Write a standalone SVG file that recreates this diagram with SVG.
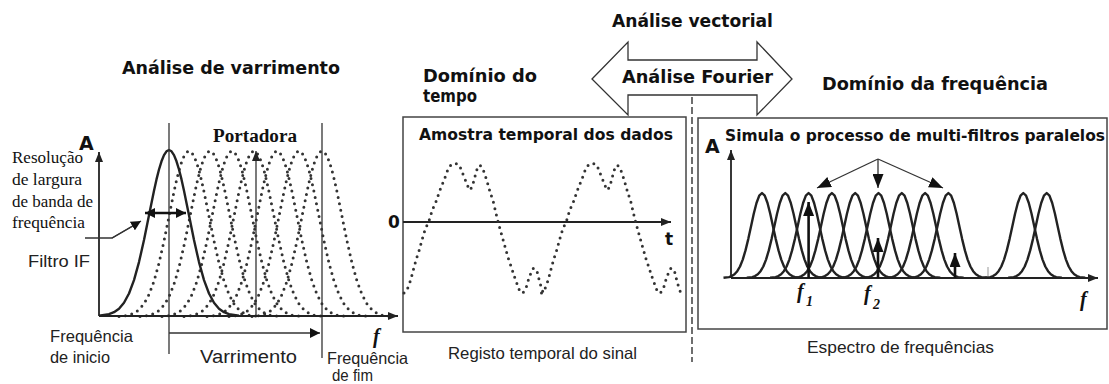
<svg xmlns="http://www.w3.org/2000/svg" xmlns:xlink="http://www.w3.org/1999/xlink" width="1109" height="384" viewBox="0 0 1109 384">
<style>
.tb{font-family:"DejaVu Sans","Liberation Sans",sans-serif;font-weight:bold;fill:#111}
.tr{font-family:"Liberation Sans",Arial,sans-serif;fill:#222}
.ts{font-family:"Liberation Serif","Times New Roman",serif;fill:#111}
.tf{font-family:"Liberation Serif","DejaVu Serif","Times New Roman",serif;font-weight:bold;font-style:italic;fill:#111}
.ln{stroke:#333;stroke-width:1.3;fill:none}
.axis{stroke:#222;stroke-width:1.8;fill:none}
.box{stroke:#444;stroke-width:1.5;fill:#fff}
.curve{fill:none;stroke:#222;stroke-width:2.4;stroke-linejoin:round}
.dot{fill:none;stroke:#333;stroke-width:3;stroke-linecap:round;stroke-dasharray:0 6.5}
.thick{stroke:#111;stroke-width:2.6;fill:none}
</style>
<defs>
<marker id="arr" viewBox="0 0 10 8" refX="10" refY="4" markerWidth="10" markerHeight="8" markerUnits="userSpaceOnUse" orient="auto-start-reverse"><path d="M0,0 L10,4 L0,8 z" fill="#222"/></marker>
<marker id="arrM" viewBox="0 0 10 10" refX="10" refY="5" markerWidth="10" markerHeight="10" markerUnits="userSpaceOnUse" orient="auto-start-reverse"><path d="M0,0 L10,5 L0,10 z" fill="#111"/></marker>
<marker id="arrL" viewBox="0 0 14 11" refX="14" refY="5.5" markerWidth="14" markerHeight="11" markerUnits="userSpaceOnUse" orient="auto"><path d="M0,0 L14,5.5 L0,11 z" fill="#111"/></marker>
<path id="gL" fill="none" d="M-70,165.6 L-60,164.2 L-55,162.2 L-50,158.7 L-45,152.8 L-40,143.5 L-35,130.1 L-30,112.1 L-25,90 L-20,65.3 L-15,40.7 L-12.5,29.4 L-10,19.5 L-7.5,11.3 L-5,5.1 L-2.5,1.3 L0,0 L2.5,1.3 L5,5.1 L7.5,11.3 L10,19.5 L12.5,29.4 L15,40.7 L20,65.3 L25,90 L30,112.1 L35,130.1 L40,143.5 L45,152.8 L50,158.7 L55,162.2 L60,164.2 L70,165.6"/>
<path id="gR" fill="none" d="M-38.5,84.8 L-33,84.1 L-30.25,83.1 L-27.5,81.3 L-24.75,78.2 L-22,73.5 L-19.25,66.6 L-16.5,57.4 L-13.75,46.1 L-11,33.4 L-8.25,20.8 L-5.5,10 L-2.75,2.6 L0,0 L2.75,2.6 L5.5,10 L8.25,20.8 L11,33.4 L13.75,46.1 L16.5,57.4 L19.25,66.6 L22,73.5 L24.75,78.2 L27.5,81.3 L30.25,83.1 L33,84.1 L38.5,84.8"/>
<path id="wave" fill="none" d="M404,293 L407,290 L410.7,280 L413.3,270 L416,260 L419.3,250 L422,240 L425,230 L429.3,220 L432.3,210 L436.7,200 L439.3,191.7 L442.7,183.3 L446,175 L448.3,168.3 L451,165 L455,163.3 L459.3,165 L463.3,175 L466.7,183.3 L468.8,188.5 L470,190 L471.3,188 L473.3,182.7 L476.7,170 L480,165 L483.3,170 L486.7,180 L490,191.7 L493.3,201.7 L496,213.3 L498.3,222.7 L501.7,235 L505,246.7 L508.3,258.3 L511.7,268.3 L515,278.3 L519.3,290 L522.7,293.3 L526,288.3 L529.3,276.7 L533.3,268.3 L536.7,270 L540,283.3 L543.3,293.3"/>
</defs>

<g id="top-labels">
<text class="tb" x="612" y="27" font-size="17.5" textLength="161" lengthAdjust="spacingAndGlyphs">Análise vectorial</text>
</g>

<g id="fourier-arrow">
<polygon points="592,79 628,42 628,60 757,60 757,42 792,79 757,115 757,95 628,95 628,115" fill="#fff" stroke="#333" stroke-width="1.3"/>
<text class="tb" x="622" y="83" font-size="17.5" textLength="151" lengthAdjust="spacingAndGlyphs">Análise Fourier</text>
</g>

<g id="divider">
<line x1="692" y1="97" x2="692" y2="362" stroke="#222" stroke-width="1.3" stroke-dasharray="7 3"/>
</g>

<g id="panel-sweep">
<text class="tb" x="122" y="74" font-size="17.5" textLength="218" lengthAdjust="spacingAndGlyphs">Análise de varrimento</text>
<use href="#gL" xlink:href="#gL" class="dot" x="189" y="151"/>
<use href="#gL" xlink:href="#gL" class="dot" x="210" y="151"/>
<use href="#gL" xlink:href="#gL" class="dot" x="232" y="151"/>
<use href="#gL" xlink:href="#gL" class="dot" x="254" y="151"/>
<use href="#gL" xlink:href="#gL" class="dot" x="277" y="151"/>
<use href="#gL" xlink:href="#gL" class="dot" x="299" y="151"/>
<use href="#gL" xlink:href="#gL" class="dot" x="322" y="151"/>
<use href="#gL" xlink:href="#gL" class="curve" x="169" y="150" stroke-width="2.6"/>
<line class="ln" x1="169" y1="123" x2="169" y2="354"/>
<line class="ln" x1="322" y1="123" x2="322" y2="358"/>
<line class="ln" x1="256" y1="316" x2="256" y2="151" marker-end="url(#arr)"/>
<line class="axis" x1="99" y1="316" x2="99" y2="152" marker-end="url(#arr)"/>
<line class="axis" x1="99" y1="316" x2="398" y2="316" marker-end="url(#arr)"/>
<text class="tb" x="79" y="150" font-size="19">A</text>
<text class="ts" x="213" y="142" font-size="18" font-weight="bold" textLength="84" lengthAdjust="spacingAndGlyphs">Portadora</text>
<text class="ts" x="12" y="163" font-size="16" textLength="71" lengthAdjust="spacingAndGlyphs">Resolução</text>
<text class="ts" x="12" y="185" font-size="16" textLength="70" lengthAdjust="spacingAndGlyphs">de largura</text>
<text class="ts" x="12" y="207" font-size="16" textLength="81" lengthAdjust="spacingAndGlyphs">de banda de</text>
<text class="ts" x="12" y="228" font-size="16" textLength="73" lengthAdjust="spacingAndGlyphs">frequência</text>
<text class="tr" x="28" y="267" font-size="17" textLength="62" lengthAdjust="spacingAndGlyphs">Filtro IF</text>
<text class="tf" x="373" y="343" font-size="20">f</text>
<text class="tr" x="50" y="342" font-size="16.5" textLength="83" lengthAdjust="spacingAndGlyphs">Frequência</text>
<text class="tr" x="50" y="363" font-size="16.5" textLength="60" lengthAdjust="spacingAndGlyphs">de inicio</text>
<text class="tr" x="200" y="363" font-size="18" textLength="97" lengthAdjust="spacingAndGlyphs">Varrimento</text>
<text class="tr" x="327" y="364" font-size="16.5" textLength="81" lengthAdjust="spacingAndGlyphs">Frequência</text>
<text class="tr" x="332" y="381" font-size="16.5" textLength="41" lengthAdjust="spacingAndGlyphs">de fim</text>
</g>

<g id="panel-time">
<text class="tb" x="423" y="82" font-size="17.5" textLength="114" lengthAdjust="spacingAndGlyphs">Domínio do</text>
<text class="tb" x="423" y="102" font-size="17.5" textLength="54" lengthAdjust="spacingAndGlyphs">tempo</text>
<rect class="box" x="403" y="117" width="283" height="215"/>
<text class="tb" x="419" y="140" font-size="15.5" textLength="254" lengthAdjust="spacingAndGlyphs">Amostra temporal dos dados</text>
<line class="axis" x1="403" y1="222" x2="671" y2="222" marker-end="url(#arr)"/>
<text class="tb" x="388" y="228" font-size="17">0</text>
<text class="tb" x="665" y="245" font-size="17">t</text>
<use href="#wave" xlink:href="#wave" class="dot"/>
<use href="#wave" xlink:href="#wave" class="dot" x="137.5"/>
<text class="tr" x="448" y="359" font-size="16.5" textLength="189" lengthAdjust="spacingAndGlyphs">Registo temporal do sinal</text>
</g>

<g id="panel-freq">
<text class="tb" x="822" y="90" font-size="17.5" textLength="226" lengthAdjust="spacingAndGlyphs">Domínio da frequência</text>
<rect class="box" x="698" y="118" width="409" height="211"/>
<text class="tb" x="725" y="141" font-size="15.5" textLength="380" lengthAdjust="spacingAndGlyphs">Simula o processo de multi-filtros paralelos</text>
<text class="tb" x="705" y="153" font-size="19">A</text>
<use href="#gR" xlink:href="#gR" class="curve" x="762" y="193"/>
<use href="#gR" xlink:href="#gR" class="curve" x="785.3" y="193"/>
<use href="#gR" xlink:href="#gR" class="curve" x="808.6" y="193"/>
<use href="#gR" xlink:href="#gR" class="curve" x="831.9" y="193"/>
<use href="#gR" xlink:href="#gR" class="curve" x="855.2" y="193"/>
<use href="#gR" xlink:href="#gR" class="curve" x="878.5" y="193"/>
<use href="#gR" xlink:href="#gR" class="curve" x="901.8" y="193"/>
<use href="#gR" xlink:href="#gR" class="curve" x="925.1" y="193"/>
<use href="#gR" xlink:href="#gR" class="curve" x="948.4" y="193"/>
<use href="#gR" xlink:href="#gR" class="curve" x="1023.3" y="193"/>
<use href="#gR" xlink:href="#gR" class="curve" x="1046.7" y="193"/>
<line x1="988" y1="267" x2="988" y2="276" stroke="#bbb" stroke-width="1.5"/>
<line class="axis" x1="731" y1="278" x2="731" y2="150" marker-end="url(#arr)"/>
<line class="axis" x1="731" y1="278" x2="1098" y2="278" marker-end="url(#arr)"/>
<text class="tf" x="797" y="298" font-size="20">f</text>
<text class="tf" x="806" y="306" font-size="14" font-weight="normal">1</text>
<text class="tf" x="864" y="300" font-size="20">f</text>
<text class="tf" x="873" y="309" font-size="14" font-weight="normal">2</text>
<text class="tf" x="1080" y="306" font-size="20">f</text>
<text class="tr" x="807" y="353" font-size="16.5" textLength="187" lengthAdjust="spacingAndGlyphs">Espectro de frequências</text>
</g>

<g id="connectors">
<line class="thick" x1="145" y1="213" x2="186" y2="213" stroke-width="2.4" marker-start="url(#arrM)" marker-end="url(#arrM)"/>
<polyline class="ln" points="85,238 112,238 133,226"/>
<line class="ln" x1="112" y1="238" x2="141" y2="221" marker-end="url(#arrM)" stroke-width="1.6"/>
<line class="ln" x1="169" y1="333" x2="320" y2="333" marker-end="url(#arrM)"/>
<line class="thick" x1="808.6" y1="278" x2="808.6" y2="202" marker-end="url(#arrL)"/>
<line class="thick" x1="878" y1="278" x2="878" y2="238" marker-end="url(#arrL)"/>
<line class="thick" x1="955" y1="278" x2="955" y2="253" marker-end="url(#arrL)"/>
<line class="ln" x1="878" y1="159" x2="817" y2="188" marker-end="url(#arrL)"/>
<line class="ln" x1="878" y1="159" x2="878" y2="188" marker-end="url(#arrL)"/>
<line class="ln" x1="878" y1="159" x2="943" y2="188" marker-end="url(#arrL)"/>
</g>
</svg>
